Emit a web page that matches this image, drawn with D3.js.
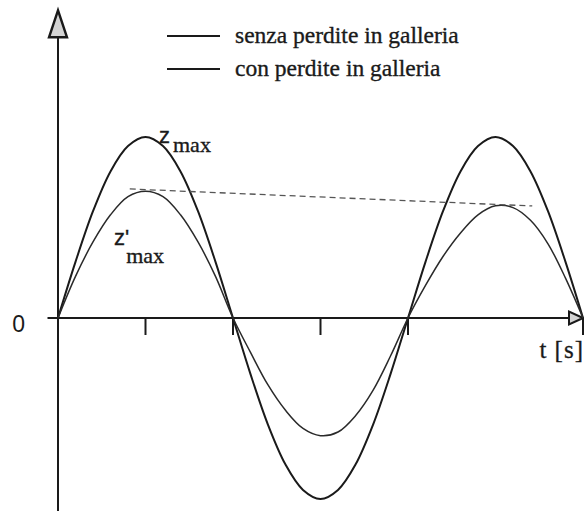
<!DOCTYPE html>
<html>
<head>
<meta charset="utf-8">
<script src="https://cdn.jsdelivr.net/npm/d3@7/dist/d3.min.js"></script>
<style>
  html, body { margin: 0; padding: 0; background: #fff; }
  svg { display: block; }
</style>
</head>
<body>
<script>
// Time samples (in half-periods) and the two oscillation series
const tValues = [0, 0.1, 0.2, 0.3, 0.4, 0.5, 0.6, 0.7, 0.8, 0.9,
                 1.0, 1.1, 1.2, 1.3, 1.4, 1.5, 1.6, 1.7, 1.8, 1.9,
                 2.0, 2.1, 2.2, 2.3, 2.4, 2.5, 2.6, 2.7, 2.8, 2.9, 3.0];

// senza perdite in galleria
const zSenza = [0, 0.31, 0.59, 0.81, 0.95, 1.00, 0.95, 0.81, 0.59, 0.31,
                0, -0.31, -0.59, -0.81, -0.95, -1.00, -0.95, -0.81, -0.59, -0.31,
                0, 0.31, 0.59, 0.81, 0.95, 1.00, 0.95, 0.81, 0.59, 0.31, 0];

// con perdite in galleria
const zCon = [0, 0.23, 0.42, 0.57, 0.67, 0.70, 0.67, 0.57, 0.42, 0.23,
              0, -0.19, -0.37, -0.51, -0.61, -0.65, -0.63, -0.54, -0.40, -0.21,
              0, 0.18, 0.34, 0.47, 0.57, 0.62, 0.61, 0.54, 0.41, 0.22, 0];

// Envelope through the damped peaks
const envT = [0.41, 2.71];
const envZ = [0.713, 0.619];

// Tick positions on the time axis
const tickT = [0.5, 1, 1.5, 2, 3];

// Axis extents
const xAxisT = [-0.06, 3.0];
const yAxisZ = [-1.07, 1.70];

const legendLabels = ["senza perdite in galleria", "con perdite in galleria"];

const W = 584, H = 511;
const svg = d3.select("body").append("svg").attr("width", W).attr("height", H);

const x = d3.scaleLinear().domain([0, 3]).range([58, 583]);
const y = d3.scaleLinear().domain([0, 1]).range([318, 137]);

const ink = "#1a1a1a";

// ---- axes ----
const arrowLen = 27;
// vertical axis
svg.append("line")
  .attr("x1", x(0)).attr("x2", x(0))
  .attr("y1", y(yAxisZ[1]) + arrowLen).attr("y2", y(yAxisZ[0]))
  .attr("stroke", ink).attr("stroke-width", 2);
// vertical arrow head
{
  const tx = x(0), ty = y(yAxisZ[1]);
  svg.append("path")
    .attr("d", `M${tx},${ty} L${tx - 9},${ty + arrowLen} L${tx + 9},${ty + arrowLen} Z`)
    .attr("fill", "#d4d4d4").attr("stroke", ink).attr("stroke-width", 2.4)
    .attr("stroke-linejoin", "miter");
}
// horizontal axis
svg.append("line")
  .attr("x1", x(xAxisT[0])).attr("x2", x(xAxisT[1]) - 13)
  .attr("y1", y(0)).attr("y2", y(0))
  .attr("stroke", ink).attr("stroke-width", 2);
{
  const tx = x(xAxisT[1]), ty = y(0);
  svg.append("path")
    .attr("d", `M${tx},${ty} L${tx - 14},${ty - 6.5} L${tx - 14},${ty + 6.5} Z`)
    .attr("fill", "#d4d4d4").attr("stroke", ink).attr("stroke-width", 2);
}
// ticks
svg.selectAll(".tick").data(tickT).enter().append("line")
  .attr("x1", d => x(d)).attr("x2", d => x(d))
  .attr("y1", y(0)).attr("y2", y(0) + 17)
  .attr("stroke", ink).attr("stroke-width", 2);

// ---- curves ----
const line = d3.line()
  .x((d, i) => x(tValues[i]))
  .y(d => y(d))
  .curve(d3.curveCatmullRom.alpha(0.5));

svg.append("path").datum(zSenza)
  .attr("d", line).attr("fill", "none")
  .attr("stroke", ink).attr("stroke-width", 2).attr("stroke-linejoin", "round");

svg.append("path").datum(zCon)
  .attr("d", line).attr("fill", "none")
  .attr("stroke", "#2a2a2a").attr("stroke-width", 1.5).attr("stroke-linejoin", "round");

// envelope
svg.append("line")
  .attr("x1", x(envT[0])).attr("y1", y(envZ[0]))
  .attr("x2", x(envT[1])).attr("y2", y(envZ[1]))
  .attr("stroke", "#555").attr("stroke-width", 1.3)
  .attr("stroke-dasharray", "6,4");

// ---- legend ----
const sans = "'Liberation Sans', Arial, sans-serif";
const serif = "'Liberation Serif', 'Times New Roman', serif";

const legend = svg.append("g");
legendLabels.forEach((lab, i) => {
  const ly = 36 + i * 33;
  legend.append("line")
    .attr("x1", 167).attr("x2", 220).attr("y1", ly).attr("y2", ly)
    .attr("stroke", ink).attr("stroke-width", i === 0 ? 2.2 : 1.8);
  legend.append("text")
    .attr("x", 235).attr("y", ly + 7)
    .attr("font-family", serif)
    .attr("font-size", 23.5).attr("fill", ink)
    .attr("stroke", ink).attr("stroke-width", 0.35)
    .text(lab);
});

// ---- labels ----
svg.append("text").attr("x", 25).attr("y", 332)
  .attr("text-anchor", "end")
  .attr("font-family", sans).attr("font-size", 23).attr("fill", ink)
  .text("0");

svg.append("text").attr("x", 584).attr("y", 358)
  .attr("text-anchor", "end")
  .attr("font-family", serif).attr("font-size", 25).attr("fill", ink)
  .attr("stroke", ink).attr("stroke-width", 0.3)
  .attr("letter-spacing", 1)
  .text("t [s]");

// z max
const zl = svg.append("text").attr("x", 159).attr("y", 143).attr("fill", ink)
  .attr("stroke", ink).attr("stroke-width", 0.35);
zl.append("tspan").attr("font-family", sans).attr("font-size", 22).text("z");
zl.append("tspan").attr("font-family", serif).attr("font-size", 22).attr("dx", 3).attr("dy", 9).text("max");

// z' max
const zp = svg.append("text").attr("x", 114).attr("y", 245).attr("fill", ink)
  .attr("stroke", ink).attr("stroke-width", 0.35);
zp.append("tspan").attr("font-family", sans).attr("font-size", 22).text("z'");
zp.append("tspan").attr("font-family", serif).attr("font-size", 22).attr("dx", -3).attr("dy", 18).text("max");
</script>
</body>
</html>
